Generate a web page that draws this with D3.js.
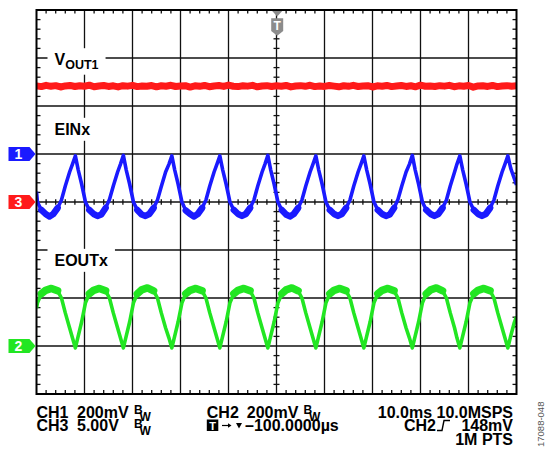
<!DOCTYPE html>
<html><head><meta charset="utf-8">
<script src="https://cdn.jsdelivr.net/npm/d3@7"></script>
<style>html,body{margin:0;padding:0;background:#fff;}svg{display:block;font-family:"Liberation Sans",Arial,Helvetica,sans-serif;}</style>
</head><body>
<svg id="chart" width="545" height="452"></svg>
<script>
// ---- scope settings ----
const timeDomainMs = [-50, 50];      // 10 divisions x 10.0 ms
const divDomain = [-4, 4];           // 8 vertical divisions
const ch1 = {marker: "1", offsetDiv: 1, perDiv: 200, color: "#1a1aff"};   // mV/div
const ch2 = {marker: "2", offsetDiv: -3, perDiv: 200, color: "#22e622"};  // mV/div
const ch3 = {marker: "3", offsetDiv: 0, perDiv: 5, color: "#ff1a1a"};     // V/div

// ---- VOUT1 (CH3, volts), sampled every 1 ms from -50 ms ----
const vout1Volts = [12.10,12.02,12.15,12.05,12.12,11.98,12.09,12.14,12.03,12.11,12.06,12.17,12.00,12.08,12.13,12.04,12.10,11.99,12.12,12.07,
12.15,12.02,12.09,12.05,12.13,12.00,12.11,12.06,12.16,12.03,12.08,12.12,11.97,12.10,12.05,12.14,12.01,12.09,12.13,12.04,
12.18,12.06,12.02,12.11,12.07,12.15,12.00,12.09,12.12,12.03,12.10,12.06,12.14,11.99,12.08,12.12,12.05,12.16,12.02,12.09,
12.04,12.13,12.07,12.00,12.11,12.05,12.15,12.03,12.09,12.12,11.98,12.10,12.06,12.14,12.02,12.08,12.13,12.04,12.11,12.00,
12.17,12.06,12.09,12.03,12.12,12.07,12.15,12.01,12.10,12.05,12.13,11.96,12.09,12.11,12.04,12.14,12.02,12.08,12.12,12.06,12.10];

// ---- EINx (CH1): [time ms, mV] ----
const einTrace = [[-50.0,-157],[-49.8,-200],[-49.0,-233],[-48.1,-250],[-47.3,-260],[-46.5,-250],[-45.6,-225],[-44.8,-192],[-44.0,-133],[-43.1,-75],[-42.5,-42],
[-41.9,-8],[-41.3,-67],[-40.6,-125],[-39.8,-200],[-39.0,-233],[-38.1,-250],[-37.3,-258],[-36.5,-252],[-35.6,-225],[-34.8,-190],[-34.0,-133],[-33.1,-75],[-32.5,-42],
[-31.9,-6],[-31.3,-67],[-30.6,-125],[-29.8,-200],[-29.0,-233],[-28.1,-252],[-27.3,-258],[-26.5,-250],[-25.6,-225],[-24.8,-192],[-24.0,-135],[-23.1,-75],[-22.4,-42],
[-21.8,-8],[-21.2,-67],[-20.5,-125],[-19.7,-200],[-18.9,-235],[-18.0,-250],[-17.2,-260],[-16.4,-250],[-15.5,-225],[-14.7,-192],[-13.9,-133],[-13.0,-75],[-12.4,-42],
[-11.8,-8],[-11.2,-67],[-10.5,-125],[-9.7,-200],[-8.9,-233],[-8.0,-250],[-7.2,-258],[-6.4,-250],[-5.5,-225],[-4.7,-192],[-3.9,-133],[-3.0,-75],[-2.4,-42],
[-1.8,-6],[-1.2,-67],[-0.5,-125],[0.3,-200],[1.1,-233],[2.0,-252],[2.8,-260],[3.6,-250],[4.5,-225],[5.3,-192],[6.1,-133],[7.0,-75],[7.6,-42],
[8.2,-8],[8.8,-67],[9.5,-125],[10.3,-200],[11.1,-233],[12.0,-250],[12.8,-258],[13.6,-250],[14.5,-225],[15.3,-192],[16.1,-133],[17.0,-75],[17.6,-42],
[18.2,-8],[18.8,-67],[19.5,-125],[20.3,-200],[21.1,-233],[22.0,-250],[22.8,-258],[23.6,-252],[24.5,-225],[25.3,-190],[26.1,-133],[27.0,-75],[27.7,-42],
[28.3,-6],[28.9,-67],[29.6,-125],[30.4,-200],[31.2,-233],[32.1,-250],[32.9,-258],[33.7,-250],[34.6,-225],[35.4,-192],[36.2,-133],[37.1,-75],[37.6,-42],
[38.2,-8],[38.8,-67],[39.5,-125],[40.3,-200],[41.1,-233],[42.0,-250],[42.8,-258],[43.6,-250],[44.5,-225],[45.3,-192],[46.1,-133],[47.0,-75],[47.6,-42],
[48.2,-8],[48.8,-60],[49.5,-100],[50.0,-129]];

// ---- EOUTx (CH2): [time ms, mV] ----
const eoutTrace = [[-50.0,158],[-49.8,180],[-49.0,218],[-48.1,232],[-46.9,240],[-45.6,230],[-44.8,200],[-44.0,138],[-43.1,75],[-42.5,33],
[-41.9,-8],[-41.3,42],[-40.6,100],[-39.8,180],[-39.0,218],[-38.1,232],[-36.9,240],[-35.6,230],[-34.8,200],[-34.0,138],[-33.1,75],[-32.5,33],
[-31.9,-8],[-31.3,42],[-30.6,100],[-29.8,180],[-29.0,218],[-28.1,234],[-26.9,242],[-25.6,230],[-24.8,200],[-24.0,138],[-23.1,75],[-22.4,33],
[-21.8,-8],[-21.2,42],[-20.5,100],[-19.7,180],[-18.9,218],[-18.0,232],[-16.8,240],[-15.5,230],[-14.7,200],[-13.9,138],[-13.0,75],[-12.4,33],
[-11.8,-8],[-11.2,42],[-10.5,100],[-9.7,180],[-8.9,218],[-8.0,232],[-6.8,240],[-5.5,230],[-4.7,200],[-3.9,138],[-3.0,75],[-2.4,33],
[-1.8,-8],[-1.2,42],[-0.5,100],[0.3,180],[1.1,218],[2.0,234],[3.2,242],[4.5,230],[5.3,200],[6.1,138],[7.0,75],[7.6,33],
[8.2,-8],[8.8,42],[9.5,100],[10.3,180],[11.1,218],[12.0,232],[13.2,240],[14.5,230],[15.3,200],[16.1,138],[17.0,75],[17.6,33],
[18.2,-8],[18.8,42],[19.5,100],[20.3,180],[21.1,218],[22.0,232],[23.2,240],[24.5,230],[25.3,200],[26.1,138],[27.0,75],[27.7,33],
[28.3,-8],[28.9,42],[29.6,100],[30.4,180],[31.2,218],[32.1,234],[33.3,242],[34.6,230],[35.4,200],[36.2,138],[37.1,75],[37.6,33],
[38.2,-8],[38.8,42],[39.5,100],[40.3,180],[41.1,218],[42.0,232],[43.2,240],[44.5,230],[45.3,200],[46.1,138],[47.0,75],[47.6,33],
[48.2,-8],[48.8,42],[49.5,95],[50.0,122]];

// ---- labels ----
const traceLabels = [{main: "V", sub: "OUT1", div: 2.85}, {main: "EINx", sub: "", div: 1.4}, {main: "EOUTx", sub: "", div: -1.33}];
const leftStatus = [["CH1", "200mV"], ["CH3", "5.00V"]];
const midStatus1 = ["CH2", "200mV"];
const midStatus2 = "\u2013100.0000\u00b5s";
const rightStatus = ["10.0ms 10.0MSPS", "148mV", "1M PTS"];
const rightTrigSrc = "CH2";
const figureId = "17088-048";

// ---- layout ----
const W = 545, H = 452;
const plot = {l: 36.5, r: 516.5, t: 10, b: 394};
const svg = d3.select("#chart");
svg.append("rect").attr("width", W).attr("height", H).attr("fill", "#fff");

const x = d3.scaleLinear().domain(timeDomainMs).range([plot.l, plot.r]);
const yDiv = d3.scaleLinear().domain(divDomain).range([plot.b, plot.t]);
const yCh = ch => v => yDiv(ch.offsetDiv + v / ch.perDiv);

// grid
const g = svg.append("g");
const xMaj = x.ticks(10), yMaj = yDiv.ticks(8);
g.selectAll("line.vx").data(xMaj.slice(1, -1)).join("line")
  .attr("x1", d => x(d)).attr("x2", d => x(d)).attr("y1", plot.t).attr("y2", plot.b)
  .attr("stroke", "#111").attr("stroke-width", 1.3);
g.selectAll("line.hy").data(yMaj.slice(1, -1)).join("line")
  .attr("y1", d => yDiv(d)).attr("y2", d => yDiv(d)).attr("x1", plot.l).attr("x2", plot.r)
  .attr("stroke", "#111").attr("stroke-width", 1.3);

// minor ticks
const xMin = d3.range(-50, 50.001, 2).filter(d => Math.abs(d % 10) > 0.01);
const yMin = d3.range(-4, 4.001, 0.2).filter(d => Math.abs(d - Math.round(d)) > 0.01);
const tk = [];
xMin.forEach(d => {
  tk.push([x(d), plot.t, x(d), plot.t + 3.5]);
  tk.push([x(d), plot.b, x(d), plot.b - 4]);
  tk.push([x(d), yDiv(0) - 2.8, x(d), yDiv(0) + 2.8]);
});
yMin.forEach(d => {
  tk.push([plot.l, yDiv(d), plot.l + 4, yDiv(d)]);
  tk.push([plot.r, yDiv(d), plot.r - 4, yDiv(d)]);
  tk.push([x(0) - 3, yDiv(d), x(0) + 3, yDiv(d)]);
});
g.selectAll("line.tk").data(tk).join("line")
  .attr("x1", d => d[0]).attr("y1", d => d[1]).attr("x2", d => d[2]).attr("y2", d => d[3])
  .attr("stroke", "#111").attr("stroke-width", 1.3);

// trace labels with white boxes
traceLabels.forEach(lb => {
  const yb = yDiv(lb.div);
  const t = svg.append("text").attr("x", 54.5).attr("y", yb).attr("font-weight", "bold")
    .attr("font-size", 16).attr("fill", "#000");
  t.append("tspan").text(lb.main);
  if (lb.sub) t.append("tspan").attr("font-size", 12.5).attr("dy", 3.5).text(lb.sub);
  const bb = t.node().getBBox();
  svg.insert("rect", "text").attr("x", bb.x - 7).attr("y", bb.y - 3).attr("width", bb.width + 14).attr("height", bb.height + 6).attr("fill", "#fff");
});

// traces
svg.append("clipPath").attr("id", "pc").append("rect")
  .attr("x", plot.l).attr("y", plot.t).attr("width", plot.r - plot.l).attr("height", plot.b - plot.t);
const tr = svg.append("g").attr("clip-path", "url(#pc)");
const stepMs = (timeDomainMs[1] - timeDomainMs[0]) / (vout1Volts.length - 1);
tr.append("path").datum(vout1Volts)
  .attr("d", d3.line().x((d, i) => x(timeDomainMs[0] + i * stepMs)).y(d => yCh(ch3)(d)))
  .attr("fill", "none").attr("stroke", ch3.color).attr("stroke-width", 7).attr("stroke-linejoin", "round");

// noisy zones (valleys of EINx, crests of EOUTx) drawn wider
const runs = (arr, test) => {
  const out = []; let cur = [];
  arr.forEach((d, i) => { if (test(d)) cur.push(d); else { if (cur.length > 1) out.push(cur); cur = []; } });
  if (cur.length > 1) out.push(cur);
  return out;
};
const einLine = d3.line().x(d => x(d[0])).y(d => yCh(ch1)(d[1]));
const eoutLine = d3.line().x(d => x(d[0])).y(d => yCh(ch2)(d[1]));
tr.selectAll("path.einN").data(runs(einTrace, d => d[1] < -215)).join("path")
  .attr("d", einLine).attr("fill", "none").attr("stroke", ch1.color).attr("stroke-width", 6.5)
  .attr("stroke-linejoin", "round").attr("stroke-linecap", "round");
tr.selectAll("path.eoutN").data(runs(eoutTrace, d => d[1] > 210)).join("path")
  .attr("d", eoutLine).attr("fill", "none").attr("stroke", ch2.color).attr("stroke-width", 7.5)
  .attr("stroke-linejoin", "round").attr("stroke-linecap", "round");
tr.append("path").datum(einTrace).attr("d", einLine)
  .attr("fill", "none").attr("stroke", ch1.color).attr("stroke-width", 3.6).attr("stroke-linejoin", "round");
tr.append("path").datum(eoutTrace).attr("d", eoutLine)
  .attr("fill", "none").attr("stroke", ch2.color).attr("stroke-width", 3.6).attr("stroke-linejoin", "round");

// border
svg.append("rect").attr("x", plot.l).attr("y", plot.t).attr("width", plot.r - plot.l).attr("height", plot.b - plot.t)
  .attr("fill", "none").attr("stroke", "#000").attr("stroke-width", 2);

// channel ground markers
[ch1, ch3, ch2].forEach(ch => {
  const yc = yDiv(ch.offsetDiv);
  svg.append("path").attr("d", `M8.5,${yc - 7}H29.5L35.5,${yc}L29.5,${yc + 7}H8.5Z`).attr("fill", ch.color);
  svg.append("text").attr("x", 18.5).attr("y", yc + 5).attr("text-anchor", "middle").attr("font-weight", "bold")
    .attr("font-size", 14).attr("fill", "#fff").text(ch.marker);
});

// trigger position marker
const tx = x(0) + 0.7;
svg.append("path").attr("d", `M${tx - 5},${plot.t + 1}H${tx + 5}L${tx},${plot.t + 6.5}Z`).attr("fill", "#8c8c8c");
svg.append("path").attr("d", `M${tx - 6},18.3H${tx + 6}V31L${tx},35.8L${tx - 6},31Z`).attr("fill", "#8c8c8c");
svg.append("text").attr("x", tx).attr("y", 30).attr("text-anchor", "middle").attr("font-weight", "bold")
  .attr("font-size", 12).attr("fill", "#fff").text("T");

// status text
const st = svg.append("g").attr("font-weight", "bold").attr("font-size", 16).attr("fill", "#000");
const rows = [417.5, 431, 444.5];
const bw = (xx, yb) => {
  st.append("text").attr("x", xx).attr("y", yb - 3.5).attr("font-size", 12).text("B");
  st.append("text").attr("x", xx + 5.5).attr("y", yb + 3.5).attr("font-size", 12).text("W");
};
leftStatus.forEach((r, i) => {
  st.append("text").attr("x", 36.5).attr("y", rows[i]).text(r[0]);
  st.append("text").attr("x", 77).attr("y", rows[i]).text(r[1]);
  bw(134, rows[i]);
});
st.append("text").attr("x", 206.8).attr("y", rows[0]).text(midStatus1[0]);
st.append("text").attr("x", 246.8).attr("y", rows[0]).text(midStatus1[1]);
bw(303.5, rows[0]);
// trigger delay row
st.append("rect").attr("x", 206.8).attr("y", 419.5).attr("width", 11.5).attr("height", 11.5).attr("fill", "#000");
st.append("text").attr("x", 212.6).attr("y", 429.8).attr("text-anchor", "middle").attr("font-size", 11).attr("fill", "#fff").text("T");
st.append("path").attr("d", "M222,425.5H229").attr("stroke", "#000").attr("stroke-width", 1.2);
st.append("path").attr("d", "M231.5,425.5L228,423.3V427.7Z").attr("fill", "#000");
st.append("path").attr("d", "M236,423H242L239,428.5Z").attr("fill", "#000");
st.append("text").attr("x", 245).attr("y", rows[1]).text(midStatus2);
// right block
st.append("text").attr("x", 513).attr("y", rows[0]).attr("text-anchor", "end").text(rightStatus[0]);
st.append("text").attr("x", 404).attr("y", rows[1]).text(rightTrigSrc);
st.append("path").attr("d", "M437,430.5H442L444,420.5H450").attr("fill", "none").attr("stroke", "#000").attr("stroke-width", 1.4);
st.append("text").attr("x", 513).attr("y", rows[1]).attr("text-anchor", "end").text(rightStatus[1]);
st.append("text").attr("x", 513).attr("y", rows[2]).attr("text-anchor", "end").text(rightStatus[2]);

// figure id
svg.append("text").attr("transform", "translate(544,447) rotate(-90)").attr("font-size", 9.5)
  .attr("fill", "#555").text(figureId);
</script>
</body></html>
